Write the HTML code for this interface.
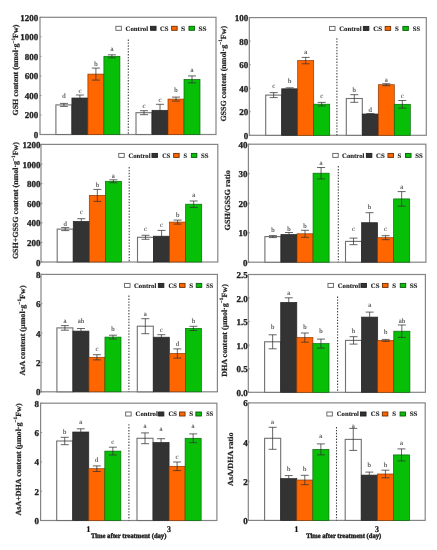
<!DOCTYPE html>
<html><head><meta charset="utf-8"><style>
html,body{margin:0;padding:0;background:#fff;}
body{width:437px;height:550px;overflow:hidden;}
svg{display:block;will-change:transform;}
text{font-family:"Liberation Serif", serif;text-rendering:geometricPrecision;}
.tick{font-size:9.0px;font-weight:bold;text-anchor:end;fill:#222;stroke:#222;stroke-width:0.3px;}
.ttl{font-size:7.8px;font-weight:bold;text-anchor:middle;fill:#222;stroke:#222;stroke-width:0.2px;}
.leg{font-size:6.8px;font-weight:bold;fill:#222;stroke:#222;stroke-width:0.12px;}
.let{font-size:6.8px;text-anchor:middle;fill:#444;stroke:#444;stroke-width:0.1px;}
.xl{font-size:8.6px;font-weight:bold;text-anchor:middle;fill:#111;stroke:#111;stroke-width:0.15px;}
.time{font-size:7.0px;font-weight:bold;fill:#222;stroke:#222;stroke-width:0.4px;}
</style></head><body>
<svg width="437" height="550" viewBox="0 0 437 550">
<rect width="437" height="550" fill="#fff"/>
<rect x="40" y="17.3" width="176" height="117.2" fill="none" stroke="#858585" stroke-width="1.2"/>
<rect x="55.9" y="104.9" width="16" height="29.6" fill="#ffffff" stroke="#707070" stroke-width="1.1"/>
<path d="M63.9 103.4V106.4M59.9 103.4h8M59.9 106.4h8" stroke="#333333" stroke-width="0.75" fill="none"/>
<text x="63.9" y="98" class="let">d</text>
<rect x="71.9" y="98" width="16" height="36.5" fill="#333333" stroke="#262626" stroke-width="0.7"/>
<path d="M79.9 95V101M75.9 95h8M75.9 101h8" stroke="#333333" stroke-width="0.75" fill="none"/>
<text x="79.9" y="92.5" class="let">c</text>
<rect x="87.9" y="74.1" width="16" height="60.4" fill="#ff6600" stroke="#8a3a00" stroke-width="0.7"/>
<path d="M95.9 68.1V80.1M91.9 68.1h8M91.9 80.1h8" stroke="#333333" stroke-width="0.75" fill="none"/>
<text x="95.9" y="65.9" class="let">b</text>
<rect x="103.9" y="56.3" width="16" height="78.2" fill="#08bf08" stroke="#0a6a0a" stroke-width="0.7"/>
<path d="M111.9 54.8V57.8M107.9 54.8h8M107.9 57.8h8" stroke="#333333" stroke-width="0.75" fill="none"/>
<text x="111.9" y="51.4" class="let">a</text>
<rect x="136" y="112.7" width="16" height="21.8" fill="#ffffff" stroke="#707070" stroke-width="1.1"/>
<path d="M144 110.7V114.7M140 110.7h8M140 114.7h8" stroke="#333333" stroke-width="0.75" fill="none"/>
<text x="144" y="107.5" class="let">c</text>
<rect x="152" y="110.3" width="16" height="24.2" fill="#333333" stroke="#262626" stroke-width="0.7"/>
<path d="M160 104.3V116.3M156 104.3h8M156 116.3h8" stroke="#333333" stroke-width="0.75" fill="none"/>
<text x="160" y="102.2" class="let">c</text>
<rect x="168" y="99.1" width="16" height="35.4" fill="#ff6600" stroke="#8a3a00" stroke-width="0.7"/>
<path d="M176 97.1V101.1M172 97.1h8M172 101.1h8" stroke="#333333" stroke-width="0.75" fill="none"/>
<text x="176" y="92.2" class="let">b</text>
<rect x="184" y="79.4" width="16" height="55.1" fill="#08bf08" stroke="#0a6a0a" stroke-width="0.7"/>
<path d="M192 75.9V82.9M188 75.9h8M188 82.9h8" stroke="#333333" stroke-width="0.75" fill="none"/>
<text x="192" y="72" class="let">a</text>
<line x1="128.3" y1="39.5" x2="128.3" y2="134.5" stroke="#3a3a3a" stroke-width="1.05" stroke-dasharray="1.4 1.5"/>
<line x1="40" y1="134.5" x2="41.6" y2="134.5" stroke="#858585" stroke-width="0.8"/>
<text x="38.3" y="138" class="tick">0</text>
<line x1="40" y1="114.97" x2="41.6" y2="114.97" stroke="#858585" stroke-width="0.8"/>
<text x="38.3" y="118.47" class="tick">200</text>
<line x1="40" y1="95.43" x2="41.6" y2="95.43" stroke="#858585" stroke-width="0.8"/>
<text x="38.3" y="98.93" class="tick">400</text>
<line x1="40" y1="75.9" x2="41.6" y2="75.9" stroke="#858585" stroke-width="0.8"/>
<text x="38.3" y="79.4" class="tick">600</text>
<line x1="40" y1="56.37" x2="41.6" y2="56.37" stroke="#858585" stroke-width="0.8"/>
<text x="38.3" y="59.87" class="tick">800</text>
<line x1="40" y1="36.83" x2="41.6" y2="36.83" stroke="#858585" stroke-width="0.8"/>
<text x="38.3" y="40.33" class="tick">1000</text>
<line x1="40" y1="17.3" x2="41.6" y2="17.3" stroke="#858585" stroke-width="0.8"/>
<text x="38.3" y="20.8" class="tick">1200</text>
<text transform="translate(18.3 70.1) rotate(-90)" x="0" y="0" class="ttl" textLength="90.8" lengthAdjust="spacingAndGlyphs">GSH content (nmol·g<tspan font-size="5.2" dy="-3.7">−1</tspan><tspan dy="3.7">Fw)</tspan></text>
<rect x="115.85" y="26.3" width="5.5" height="4" fill="#ffffff" stroke="#606060" stroke-width="0.9"/>
<rect x="150.55" y="26.3" width="5.5" height="4" fill="#333333" stroke="#1e1e1e" stroke-width="0.9"/>
<rect x="171.65" y="26.3" width="5.5" height="4" fill="#ff6600" stroke="#6a3000" stroke-width="0.9"/>
<rect x="188.95" y="26.3" width="5.5" height="4" fill="#08bf08" stroke="#0b5a0b" stroke-width="0.9"/>
<text x="125.5" y="30.7" class="leg" textLength="22.6" lengthAdjust="spacingAndGlyphs">Control</text>
<text x="160" y="30.7" class="leg" textLength="8.5" lengthAdjust="spacingAndGlyphs">CS</text>
<text x="181" y="30.7" class="leg" textLength="4.2" lengthAdjust="spacingAndGlyphs">S</text>
<text x="198.6" y="30.7" class="leg" textLength="8" lengthAdjust="spacingAndGlyphs">SS</text>
<rect x="249.3" y="17.6" width="177" height="117.7" fill="none" stroke="#858585" stroke-width="1.2"/>
<rect x="265.7" y="95.1" width="16" height="40.2" fill="#ffffff" stroke="#707070" stroke-width="1.1"/>
<path d="M273.7 92.6V97.6M269.7 92.6h8M269.7 97.6h8" stroke="#333333" stroke-width="0.75" fill="none"/>
<text x="273.7" y="88.4" class="let">c</text>
<rect x="281.7" y="88.8" width="16" height="46.5" fill="#333333" stroke="#262626" stroke-width="0.7"/>
<path d="M289.7 87.8V89.8M285.7 87.8h8M285.7 89.8h8" stroke="#333333" stroke-width="0.75" fill="none"/>
<text x="289.7" y="83.1" class="let">b</text>
<rect x="297.7" y="60.6" width="16" height="74.7" fill="#ff6600" stroke="#8a3a00" stroke-width="0.7"/>
<path d="M305.7 57.4V63.8M301.7 57.4h8M301.7 63.8h8" stroke="#333333" stroke-width="0.75" fill="none"/>
<text x="305.7" y="54.1" class="let">a</text>
<rect x="313.7" y="104.2" width="16" height="31.1" fill="#08bf08" stroke="#0a6a0a" stroke-width="0.7"/>
<path d="M321.7 102.4V106M317.7 102.4h8M317.7 106h8" stroke="#333333" stroke-width="0.75" fill="none"/>
<text x="321.7" y="98.2" class="let">c</text>
<rect x="346.3" y="98.5" width="16" height="36.8" fill="#ffffff" stroke="#707070" stroke-width="1.1"/>
<path d="M354.3 94.7V102.3M350.3 94.7h8M350.3 102.3h8" stroke="#333333" stroke-width="0.75" fill="none"/>
<text x="354.3" y="92.4" class="let">b</text>
<rect x="362.3" y="114" width="16" height="21.3" fill="#333333" stroke="#262626" stroke-width="0.7"/>
<path d="M370.3 113.5V114.5M366.3 113.5h8M366.3 114.5h8" stroke="#333333" stroke-width="0.75" fill="none"/>
<text x="370.3" y="111.7" class="let">d</text>
<rect x="378.3" y="84.7" width="16" height="50.6" fill="#ff6600" stroke="#8a3a00" stroke-width="0.7"/>
<path d="M386.3 83.7V85.7M382.3 83.7h8M382.3 85.7h8" stroke="#333333" stroke-width="0.75" fill="none"/>
<text x="386.3" y="81.6" class="let">a</text>
<rect x="394.3" y="104.3" width="16" height="31" fill="#08bf08" stroke="#0a6a0a" stroke-width="0.7"/>
<path d="M402.3 100.5V108.1M398.3 100.5h8M398.3 108.1h8" stroke="#333333" stroke-width="0.75" fill="none"/>
<text x="402.3" y="98.1" class="let">c</text>
<line x1="336.9" y1="38.3" x2="336.9" y2="135.3" stroke="#3a3a3a" stroke-width="1.05" stroke-dasharray="1.4 1.5"/>
<line x1="249.3" y1="135.3" x2="250.9" y2="135.3" stroke="#858585" stroke-width="0.8"/>
<text x="248.2" y="138.8" class="tick">0</text>
<line x1="249.3" y1="111.76" x2="250.9" y2="111.76" stroke="#858585" stroke-width="0.8"/>
<text x="248.2" y="115.26" class="tick">20</text>
<line x1="249.3" y1="88.22" x2="250.9" y2="88.22" stroke="#858585" stroke-width="0.8"/>
<text x="248.2" y="91.72" class="tick">40</text>
<line x1="249.3" y1="64.68" x2="250.9" y2="64.68" stroke="#858585" stroke-width="0.8"/>
<text x="248.2" y="68.18" class="tick">60</text>
<line x1="249.3" y1="41.14" x2="250.9" y2="41.14" stroke="#858585" stroke-width="0.8"/>
<text x="248.2" y="44.64" class="tick">80</text>
<line x1="249.3" y1="17.6" x2="250.9" y2="17.6" stroke="#858585" stroke-width="0.8"/>
<text x="248.2" y="21.1" class="tick">100</text>
<text transform="translate(226 73.75) rotate(-90)" x="0" y="0" class="ttl" textLength="95.7" lengthAdjust="spacingAndGlyphs">GSSG content (nmol·g<tspan font-size="5.2" dy="-3.7">−1</tspan><tspan dy="3.7">Fw)</tspan></text>
<rect x="329.55" y="26.4" width="5.5" height="4" fill="#ffffff" stroke="#606060" stroke-width="0.9"/>
<rect x="363.35" y="26.4" width="5.5" height="4" fill="#333333" stroke="#1e1e1e" stroke-width="0.9"/>
<rect x="385.15" y="26.4" width="5.5" height="4" fill="#ff6600" stroke="#6a3000" stroke-width="0.9"/>
<rect x="402.85" y="26.4" width="5.5" height="4" fill="#08bf08" stroke="#0b5a0b" stroke-width="0.9"/>
<text x="339.2" y="30.8" class="leg" textLength="22.4" lengthAdjust="spacingAndGlyphs">Control</text>
<text x="373.3" y="30.8" class="leg" textLength="9" lengthAdjust="spacingAndGlyphs">CS</text>
<text x="395.1" y="30.8" class="leg" textLength="3.8" lengthAdjust="spacingAndGlyphs">S</text>
<text x="412.8" y="30.8" class="leg" textLength="7.3" lengthAdjust="spacingAndGlyphs">SS</text>
<rect x="41" y="144.4" width="176.8" height="117.6" fill="none" stroke="#858585" stroke-width="1.2"/>
<rect x="57.2" y="229.1" width="16.05" height="32.9" fill="#ffffff" stroke="#707070" stroke-width="1.1"/>
<path d="M65.23 227.6V230.6M61.23 227.6h8M61.23 230.6h8" stroke="#333333" stroke-width="0.75" fill="none"/>
<text x="65.23" y="226.2" class="let">d</text>
<rect x="73.25" y="221.4" width="16.05" height="40.6" fill="#333333" stroke="#262626" stroke-width="0.7"/>
<path d="M81.28 218.7V224.1M77.28 218.7h8M77.28 224.1h8" stroke="#333333" stroke-width="0.75" fill="none"/>
<text x="81.28" y="214.3" class="let">c</text>
<rect x="89.3" y="195.4" width="16.05" height="66.6" fill="#ff6600" stroke="#8a3a00" stroke-width="0.7"/>
<path d="M97.33 189.4V201.4M93.33 189.4h8M93.33 201.4h8" stroke="#333333" stroke-width="0.75" fill="none"/>
<text x="97.33" y="187.2" class="let">b</text>
<rect x="105.35" y="181.3" width="16.05" height="80.7" fill="#08bf08" stroke="#0a6a0a" stroke-width="0.7"/>
<path d="M113.38 179.8V182.8M109.38 179.8h8M109.38 182.8h8" stroke="#333333" stroke-width="0.75" fill="none"/>
<text x="113.38" y="178" class="let">a</text>
<rect x="137.5" y="237.3" width="16.05" height="24.7" fill="#ffffff" stroke="#707070" stroke-width="1.1"/>
<path d="M145.53 235.3V239.3M141.53 235.3h8M141.53 239.3h8" stroke="#333333" stroke-width="0.75" fill="none"/>
<text x="145.53" y="231.3" class="let">c</text>
<rect x="153.55" y="236.2" width="16.05" height="25.8" fill="#333333" stroke="#262626" stroke-width="0.7"/>
<path d="M161.58 230.4V242M157.58 230.4h8M157.58 242h8" stroke="#333333" stroke-width="0.75" fill="none"/>
<text x="161.58" y="226.9" class="let">c</text>
<rect x="169.6" y="222.1" width="16.05" height="39.9" fill="#ff6600" stroke="#8a3a00" stroke-width="0.7"/>
<path d="M177.62 220.1V224.1M173.62 220.1h8M173.62 224.1h8" stroke="#333333" stroke-width="0.75" fill="none"/>
<text x="177.62" y="217" class="let">b</text>
<rect x="185.65" y="204.2" width="16.05" height="57.8" fill="#08bf08" stroke="#0a6a0a" stroke-width="0.7"/>
<path d="M193.68 201V207.4M189.68 201h8M189.68 207.4h8" stroke="#333333" stroke-width="0.75" fill="none"/>
<text x="193.68" y="197.1" class="let">a</text>
<line x1="129.2" y1="167" x2="129.2" y2="262" stroke="#3a3a3a" stroke-width="1.05" stroke-dasharray="1.4 1.5"/>
<line x1="41" y1="262" x2="42.6" y2="262" stroke="#858585" stroke-width="0.8"/>
<text x="40.5" y="265.5" class="tick">0</text>
<line x1="41" y1="242.4" x2="42.6" y2="242.4" stroke="#858585" stroke-width="0.8"/>
<text x="40.5" y="245.9" class="tick">200</text>
<line x1="41" y1="222.8" x2="42.6" y2="222.8" stroke="#858585" stroke-width="0.8"/>
<text x="40.5" y="226.3" class="tick">400</text>
<line x1="41" y1="203.2" x2="42.6" y2="203.2" stroke="#858585" stroke-width="0.8"/>
<text x="40.5" y="206.7" class="tick">600</text>
<line x1="41" y1="183.6" x2="42.6" y2="183.6" stroke="#858585" stroke-width="0.8"/>
<text x="40.5" y="187.1" class="tick">800</text>
<line x1="41" y1="164" x2="42.6" y2="164" stroke="#858585" stroke-width="0.8"/>
<text x="40.5" y="167.5" class="tick">1000</text>
<line x1="41" y1="144.4" x2="42.6" y2="144.4" stroke="#858585" stroke-width="0.8"/>
<text x="40.5" y="147.9" class="tick">1200</text>
<text transform="translate(18.2 200.55) rotate(-90)" x="0" y="0" class="ttl" textLength="117.1" lengthAdjust="spacingAndGlyphs">GSH+GSSG content (nmol·g<tspan font-size="5.2" dy="-3.7">−1</tspan><tspan dy="3.7">Fw)</tspan></text>
<rect x="118.75" y="153.4" width="5.5" height="4" fill="#ffffff" stroke="#606060" stroke-width="0.9"/>
<rect x="151.95" y="153.4" width="5.5" height="4" fill="#333333" stroke="#1e1e1e" stroke-width="0.9"/>
<rect x="173.65" y="153.4" width="5.5" height="4" fill="#ff6600" stroke="#6a3000" stroke-width="0.9"/>
<rect x="191.35" y="153.4" width="5.5" height="4" fill="#08bf08" stroke="#0b5a0b" stroke-width="0.9"/>
<text x="128.4" y="157.8" class="leg" textLength="22.1" lengthAdjust="spacingAndGlyphs">Control</text>
<text x="162.2" y="157.8" class="leg" textLength="8.1" lengthAdjust="spacingAndGlyphs">CS</text>
<text x="183.4" y="157.8" class="leg" textLength="3.6" lengthAdjust="spacingAndGlyphs">S</text>
<text x="201.1" y="157.8" class="leg" textLength="7.5" lengthAdjust="spacingAndGlyphs">SS</text>
<rect x="248.4" y="144.2" width="177.5" height="118" fill="none" stroke="#858585" stroke-width="1.2"/>
<rect x="264.9" y="236.6" width="16.05" height="25.6" fill="#ffffff" stroke="#707070" stroke-width="1.1"/>
<path d="M272.92 235.6V237.6M268.92 235.6h8M268.92 237.6h8" stroke="#333333" stroke-width="0.75" fill="none"/>
<text x="272.92" y="231.8" class="let">b</text>
<rect x="280.95" y="234.5" width="16.05" height="27.7" fill="#333333" stroke="#262626" stroke-width="0.7"/>
<path d="M288.97 232.5V236.5M284.97 232.5h8M284.97 236.5h8" stroke="#333333" stroke-width="0.75" fill="none"/>
<text x="288.97" y="230.9" class="let">b</text>
<rect x="297" y="233.8" width="16.05" height="28.4" fill="#ff6600" stroke="#8a3a00" stroke-width="0.7"/>
<path d="M305.02 230.3V237.3M301.02 230.3h8M301.02 237.3h8" stroke="#333333" stroke-width="0.75" fill="none"/>
<text x="305.02" y="227.6" class="let">b</text>
<rect x="313.05" y="173.2" width="16.05" height="89" fill="#08bf08" stroke="#0a6a0a" stroke-width="0.7"/>
<path d="M321.07 167.5V178.9M317.07 167.5h8M317.07 178.9h8" stroke="#333333" stroke-width="0.75" fill="none"/>
<text x="321.07" y="165.2" class="let">a</text>
<rect x="345.5" y="241.4" width="16.05" height="20.8" fill="#ffffff" stroke="#707070" stroke-width="1.1"/>
<path d="M353.52 238.1V244.7M349.52 238.1h8M349.52 244.7h8" stroke="#333333" stroke-width="0.75" fill="none"/>
<text x="353.52" y="231" class="let">c</text>
<rect x="361.55" y="222.7" width="16.05" height="39.5" fill="#333333" stroke="#262626" stroke-width="0.7"/>
<path d="M369.57 212.7V232.7M365.57 212.7h8M365.57 232.7h8" stroke="#333333" stroke-width="0.75" fill="none"/>
<text x="369.57" y="209.3" class="let">b</text>
<rect x="377.6" y="237.7" width="16.05" height="24.5" fill="#ff6600" stroke="#8a3a00" stroke-width="0.7"/>
<path d="M385.62 235.7V239.7M381.62 235.7h8M381.62 239.7h8" stroke="#333333" stroke-width="0.75" fill="none"/>
<text x="385.62" y="231" class="let">c</text>
<rect x="393.65" y="198.9" width="16.05" height="63.3" fill="#08bf08" stroke="#0a6a0a" stroke-width="0.7"/>
<path d="M401.67 191.6V206.2M397.67 191.6h8M397.67 206.2h8" stroke="#333333" stroke-width="0.75" fill="none"/>
<text x="401.67" y="188.5" class="let">a</text>
<line x1="338.3" y1="166.1" x2="338.3" y2="262.2" stroke="#3a3a3a" stroke-width="1.05" stroke-dasharray="1.4 1.5"/>
<line x1="248.4" y1="262.2" x2="250" y2="262.2" stroke="#858585" stroke-width="0.8"/>
<text x="247.4" y="265.7" class="tick">0</text>
<line x1="248.4" y1="232.7" x2="250" y2="232.7" stroke="#858585" stroke-width="0.8"/>
<text x="247.4" y="236.2" class="tick">10</text>
<line x1="248.4" y1="203.2" x2="250" y2="203.2" stroke="#858585" stroke-width="0.8"/>
<text x="247.4" y="206.7" class="tick">20</text>
<line x1="248.4" y1="173.7" x2="250" y2="173.7" stroke="#858585" stroke-width="0.8"/>
<text x="247.4" y="177.2" class="tick">30</text>
<line x1="248.4" y1="144.2" x2="250" y2="144.2" stroke="#858585" stroke-width="0.8"/>
<text x="247.4" y="147.7" class="tick">40</text>
<text transform="translate(229.8 200.35) rotate(-90)" x="0" y="0" class="ttl" textLength="60.3" lengthAdjust="spacingAndGlyphs">GSH/GSSG ratio</text>
<rect x="332.75" y="153.4" width="5.5" height="4" fill="#ffffff" stroke="#606060" stroke-width="0.9"/>
<rect x="366.35" y="153.4" width="5.5" height="4" fill="#333333" stroke="#1e1e1e" stroke-width="0.9"/>
<rect x="387.95" y="153.4" width="5.5" height="4" fill="#ff6600" stroke="#6a3000" stroke-width="0.9"/>
<rect x="405.55" y="153.4" width="5.5" height="4" fill="#08bf08" stroke="#0b5a0b" stroke-width="0.9"/>
<text x="342" y="157.8" class="leg" textLength="22.5" lengthAdjust="spacingAndGlyphs">Control</text>
<text x="376.1" y="157.8" class="leg" textLength="8.7" lengthAdjust="spacingAndGlyphs">CS</text>
<text x="397.5" y="157.8" class="leg" textLength="3.8" lengthAdjust="spacingAndGlyphs">S</text>
<text x="415.2" y="157.8" class="leg" textLength="7.5" lengthAdjust="spacingAndGlyphs">SS</text>
<rect x="41" y="274.4" width="176.4" height="117.4" fill="none" stroke="#858585" stroke-width="1.2"/>
<rect x="56.9" y="327.9" width="16.02" height="63.9" fill="#ffffff" stroke="#707070" stroke-width="1.1"/>
<path d="M64.91 325.6V330.2M60.91 325.6h8M60.91 330.2h8" stroke="#333333" stroke-width="0.75" fill="none"/>
<text x="64.91" y="322.5" class="let">a</text>
<rect x="72.92" y="331.1" width="16.02" height="60.7" fill="#333333" stroke="#262626" stroke-width="0.7"/>
<path d="M80.93 328.5V333.7M76.93 328.5h8M76.93 333.7h8" stroke="#333333" stroke-width="0.75" fill="none"/>
<text x="80.93" y="322.8" class="let">ab</text>
<rect x="88.94" y="357.3" width="16.02" height="34.5" fill="#ff6600" stroke="#8a3a00" stroke-width="0.7"/>
<path d="M96.95 354.7V359.9M92.95 354.7h8M92.95 359.9h8" stroke="#333333" stroke-width="0.75" fill="none"/>
<text x="96.95" y="350.9" class="let">c</text>
<rect x="104.96" y="337.1" width="16.02" height="54.7" fill="#08bf08" stroke="#0a6a0a" stroke-width="0.7"/>
<path d="M112.97 335.2V339M108.97 335.2h8M108.97 339h8" stroke="#333333" stroke-width="0.75" fill="none"/>
<text x="112.97" y="330.9" class="let">b</text>
<rect x="137.3" y="326.2" width="16.02" height="65.6" fill="#ffffff" stroke="#707070" stroke-width="1.1"/>
<path d="M145.31 318.7V333.7M141.31 318.7h8M141.31 333.7h8" stroke="#333333" stroke-width="0.75" fill="none"/>
<text x="145.31" y="316.2" class="let">a</text>
<rect x="153.32" y="337.2" width="16.02" height="54.6" fill="#333333" stroke="#262626" stroke-width="0.7"/>
<path d="M161.33 334.7V339.7M157.33 334.7h8M157.33 339.7h8" stroke="#333333" stroke-width="0.75" fill="none"/>
<text x="161.33" y="332.3" class="let">c</text>
<rect x="169.34" y="353.5" width="16.02" height="38.3" fill="#ff6600" stroke="#8a3a00" stroke-width="0.7"/>
<path d="M177.35 348.9V358.1M173.35 348.9h8M173.35 358.1h8" stroke="#333333" stroke-width="0.75" fill="none"/>
<text x="177.35" y="345.8" class="let">d</text>
<rect x="185.36" y="328.4" width="16.02" height="63.4" fill="#08bf08" stroke="#0a6a0a" stroke-width="0.7"/>
<path d="M193.37 326.3V330.5M189.37 326.3h8M189.37 330.5h8" stroke="#333333" stroke-width="0.75" fill="none"/>
<text x="193.37" y="322.7" class="let">b</text>
<line x1="128.9" y1="295.6" x2="128.9" y2="391.8" stroke="#3a3a3a" stroke-width="1.05" stroke-dasharray="1.4 1.5"/>
<line x1="41" y1="391.8" x2="42.6" y2="391.8" stroke="#858585" stroke-width="0.8"/>
<text x="40.5" y="395.3" class="tick">0</text>
<line x1="41" y1="362.45" x2="42.6" y2="362.45" stroke="#858585" stroke-width="0.8"/>
<text x="40.5" y="365.95" class="tick">2</text>
<line x1="41" y1="333.1" x2="42.6" y2="333.1" stroke="#858585" stroke-width="0.8"/>
<text x="40.5" y="336.6" class="tick">4</text>
<line x1="41" y1="303.75" x2="42.6" y2="303.75" stroke="#858585" stroke-width="0.8"/>
<text x="40.5" y="307.25" class="tick">6</text>
<line x1="41" y1="274.4" x2="42.6" y2="274.4" stroke="#858585" stroke-width="0.8"/>
<text x="40.5" y="277.9" class="tick">8</text>
<text transform="translate(25.1 330.5) rotate(-90)" x="0" y="0" class="ttl" textLength="90.2" lengthAdjust="spacingAndGlyphs">AsA content (μmol·g<tspan font-size="5.2" dy="-3.7">−1</tspan><tspan dy="3.7">Fw)</tspan></text>
<rect x="124.55" y="283.4" width="5.5" height="4" fill="#ffffff" stroke="#606060" stroke-width="0.9"/>
<rect x="158.35" y="283.4" width="5.5" height="4" fill="#333333" stroke="#1e1e1e" stroke-width="0.9"/>
<rect x="179.55" y="283.4" width="5.5" height="4" fill="#ff6600" stroke="#6a3000" stroke-width="0.9"/>
<rect x="196.25" y="283.4" width="5.5" height="4" fill="#08bf08" stroke="#0b5a0b" stroke-width="0.9"/>
<text x="133.9" y="287.8" class="leg" textLength="22.4" lengthAdjust="spacingAndGlyphs">Control</text>
<text x="168.4" y="287.8" class="leg" textLength="8.4" lengthAdjust="spacingAndGlyphs">CS</text>
<text x="189.2" y="287.8" class="leg" textLength="3.9" lengthAdjust="spacingAndGlyphs">S</text>
<text x="206.2" y="287.8" class="leg" textLength="6.9" lengthAdjust="spacingAndGlyphs">SS</text>
<rect x="248.3" y="274.5" width="177.1" height="117.8" fill="none" stroke="#858585" stroke-width="1.2"/>
<rect x="264.6" y="341.8" width="16.1" height="50.5" fill="#ffffff" stroke="#707070" stroke-width="1.1"/>
<path d="M272.65 334.8V348.8M268.65 334.8h8M268.65 348.8h8" stroke="#333333" stroke-width="0.75" fill="none"/>
<text x="272.65" y="329.3" class="let">b</text>
<rect x="280.7" y="302.4" width="16.1" height="89.9" fill="#333333" stroke="#262626" stroke-width="0.7"/>
<path d="M288.75 297.8V307M284.75 297.8h8M284.75 307h8" stroke="#333333" stroke-width="0.75" fill="none"/>
<text x="288.75" y="295.3" class="let">a</text>
<rect x="296.8" y="337.6" width="16.1" height="54.7" fill="#ff6600" stroke="#8a3a00" stroke-width="0.7"/>
<path d="M304.85 333V342.2M300.85 333h8M300.85 342.2h8" stroke="#333333" stroke-width="0.75" fill="none"/>
<text x="304.85" y="329.3" class="let">b</text>
<rect x="312.9" y="343.6" width="16.1" height="48.7" fill="#08bf08" stroke="#0a6a0a" stroke-width="0.7"/>
<path d="M320.95 339.1V348.1M316.95 339.1h8M316.95 348.1h8" stroke="#333333" stroke-width="0.75" fill="none"/>
<text x="320.95" y="332.6" class="let">b</text>
<rect x="345.5" y="340.4" width="16.1" height="51.9" fill="#ffffff" stroke="#707070" stroke-width="1.1"/>
<path d="M353.55 336.7V344.1M349.55 336.7h8M349.55 344.1h8" stroke="#333333" stroke-width="0.75" fill="none"/>
<text x="353.55" y="332.5" class="let">b</text>
<rect x="361.6" y="317.1" width="16.1" height="75.2" fill="#333333" stroke="#262626" stroke-width="0.7"/>
<path d="M369.65 312.1V322.1M365.65 312.1h8M365.65 322.1h8" stroke="#333333" stroke-width="0.75" fill="none"/>
<text x="369.65" y="307.1" class="let">a</text>
<rect x="377.7" y="340.4" width="16.1" height="51.9" fill="#ff6600" stroke="#8a3a00" stroke-width="0.7"/>
<path d="M385.75 339.4V341.4M381.75 339.4h8M381.75 341.4h8" stroke="#333333" stroke-width="0.75" fill="none"/>
<text x="385.75" y="334.3" class="let">b</text>
<rect x="393.8" y="331.2" width="16.1" height="61.1" fill="#08bf08" stroke="#0a6a0a" stroke-width="0.7"/>
<path d="M401.85 325V337.4M397.85 325h8M397.85 337.4h8" stroke="#333333" stroke-width="0.75" fill="none"/>
<text x="401.85" y="323" class="let">ab</text>
<line x1="337.6" y1="296.5" x2="337.6" y2="392.3" stroke="#3a3a3a" stroke-width="1.05" stroke-dasharray="1.4 1.5"/>
<line x1="248.3" y1="392.3" x2="249.9" y2="392.3" stroke="#858585" stroke-width="0.8"/>
<text x="247.7" y="395.8" class="tick">0.0</text>
<line x1="248.3" y1="368.74" x2="249.9" y2="368.74" stroke="#858585" stroke-width="0.8"/>
<text x="247.7" y="372.24" class="tick">0.5</text>
<line x1="248.3" y1="345.18" x2="249.9" y2="345.18" stroke="#858585" stroke-width="0.8"/>
<text x="247.7" y="348.68" class="tick">1.0</text>
<line x1="248.3" y1="321.62" x2="249.9" y2="321.62" stroke="#858585" stroke-width="0.8"/>
<text x="247.7" y="325.12" class="tick">1.5</text>
<line x1="248.3" y1="298.06" x2="249.9" y2="298.06" stroke="#858585" stroke-width="0.8"/>
<text x="247.7" y="301.56" class="tick">2.0</text>
<line x1="248.3" y1="274.5" x2="249.9" y2="274.5" stroke="#858585" stroke-width="0.8"/>
<text x="247.7" y="278" class="tick">2.5</text>
<text transform="translate(227 330.45) rotate(-90)" x="0" y="0" class="ttl" textLength="92.7" lengthAdjust="spacingAndGlyphs">DHA content (μmol·g<tspan font-size="5.2" dy="-3.7">−1</tspan><tspan dy="3.7">Fw)</tspan></text>
<rect x="327.95" y="283.4" width="5.5" height="4" fill="#ffffff" stroke="#606060" stroke-width="0.9"/>
<rect x="360.95" y="283.4" width="5.5" height="4" fill="#333333" stroke="#1e1e1e" stroke-width="0.9"/>
<rect x="382.55" y="283.4" width="5.5" height="4" fill="#ff6600" stroke="#6a3000" stroke-width="0.9"/>
<rect x="400.25" y="283.4" width="5.5" height="4" fill="#08bf08" stroke="#0b5a0b" stroke-width="0.9"/>
<text x="337.7" y="287.8" class="leg" textLength="22.4" lengthAdjust="spacingAndGlyphs">Control</text>
<text x="370.8" y="287.8" class="leg" textLength="8.7" lengthAdjust="spacingAndGlyphs">CS</text>
<text x="392.2" y="287.8" class="leg" textLength="3.8" lengthAdjust="spacingAndGlyphs">S</text>
<text x="409.7" y="287.8" class="leg" textLength="7.8" lengthAdjust="spacingAndGlyphs">SS</text>
<rect x="40.6" y="403.2" width="176.3" height="117.3" fill="none" stroke="#858585" stroke-width="1.2"/>
<rect x="56.7" y="441" width="16.04" height="79.5" fill="#ffffff" stroke="#707070" stroke-width="1.1"/>
<path d="M64.72 437.3V444.7M60.72 437.3h8M60.72 444.7h8" stroke="#333333" stroke-width="0.75" fill="none"/>
<text x="64.72" y="434" class="let">b</text>
<rect x="72.74" y="432" width="16.04" height="88.5" fill="#333333" stroke="#262626" stroke-width="0.7"/>
<path d="M80.76 428.8V435.2M76.76 428.8h8M76.76 435.2h8" stroke="#333333" stroke-width="0.75" fill="none"/>
<text x="80.76" y="423.8" class="let">a</text>
<rect x="88.78" y="468.7" width="16.04" height="51.8" fill="#ff6600" stroke="#8a3a00" stroke-width="0.7"/>
<path d="M96.8 465.9V471.5M92.8 465.9h8M92.8 471.5h8" stroke="#333333" stroke-width="0.75" fill="none"/>
<text x="96.8" y="461.5" class="let">d</text>
<rect x="104.82" y="451.1" width="16.04" height="69.4" fill="#08bf08" stroke="#0a6a0a" stroke-width="0.7"/>
<path d="M112.84 447.2V455M108.84 447.2h8M108.84 455h8" stroke="#333333" stroke-width="0.75" fill="none"/>
<text x="112.84" y="444" class="let">c</text>
<rect x="137" y="438.3" width="16.04" height="82.2" fill="#ffffff" stroke="#707070" stroke-width="1.1"/>
<path d="M145.02 432.9V443.7M141.02 432.9h8M141.02 443.7h8" stroke="#333333" stroke-width="0.75" fill="none"/>
<text x="145.02" y="428.4" class="let">a</text>
<rect x="153.04" y="442.5" width="16.04" height="78" fill="#333333" stroke="#262626" stroke-width="0.7"/>
<path d="M161.06 438.7V446.3M157.06 438.7h8M157.06 446.3h8" stroke="#333333" stroke-width="0.75" fill="none"/>
<text x="161.06" y="431.2" class="let">a</text>
<rect x="169.08" y="466.3" width="16.04" height="54.2" fill="#ff6600" stroke="#8a3a00" stroke-width="0.7"/>
<path d="M177.1 462V470.6M173.1 462h8M173.1 470.6h8" stroke="#333333" stroke-width="0.75" fill="none"/>
<text x="177.1" y="459" class="let">c</text>
<rect x="185.12" y="438.3" width="16.04" height="82.2" fill="#08bf08" stroke="#0a6a0a" stroke-width="0.7"/>
<path d="M193.14 433.9V442.7M189.14 433.9h8M189.14 442.7h8" stroke="#333333" stroke-width="0.75" fill="none"/>
<text x="193.14" y="428.4" class="let">a</text>
<line x1="128.9" y1="424.2" x2="128.9" y2="520.5" stroke="#3a3a3a" stroke-width="1.05" stroke-dasharray="1.4 1.5"/>
<line x1="40.6" y1="520.5" x2="42.2" y2="520.5" stroke="#858585" stroke-width="0.8"/>
<text x="38.9" y="524" class="tick">0</text>
<line x1="40.6" y1="491.18" x2="42.2" y2="491.18" stroke="#858585" stroke-width="0.8"/>
<text x="38.9" y="494.68" class="tick">2</text>
<line x1="40.6" y1="461.85" x2="42.2" y2="461.85" stroke="#858585" stroke-width="0.8"/>
<text x="38.9" y="465.35" class="tick">4</text>
<line x1="40.6" y1="432.52" x2="42.2" y2="432.52" stroke="#858585" stroke-width="0.8"/>
<text x="38.9" y="436.02" class="tick">6</text>
<line x1="40.6" y1="403.2" x2="42.2" y2="403.2" stroke="#858585" stroke-width="0.8"/>
<text x="38.9" y="406.7" class="tick">8</text>
<text transform="translate(21.1 459.4) rotate(-90)" x="0" y="0" class="ttl" textLength="112.2" lengthAdjust="spacingAndGlyphs">AsA+DHA content (μmol·g<tspan font-size="5.2" dy="-3.7">−1</tspan><tspan dy="3.7">Fw)</tspan></text>
<rect x="125.65" y="412" width="5.5" height="4" fill="#ffffff" stroke="#606060" stroke-width="0.9"/>
<rect x="158.35" y="412" width="5.5" height="4" fill="#333333" stroke="#1e1e1e" stroke-width="0.9"/>
<rect x="179.55" y="412" width="5.5" height="4" fill="#ff6600" stroke="#6a3000" stroke-width="0.9"/>
<rect x="195.85" y="412" width="5.5" height="4" fill="#08bf08" stroke="#0b5a0b" stroke-width="0.9"/>
<text x="135.6" y="416.4" class="leg" textLength="22.2" lengthAdjust="spacingAndGlyphs">Control</text>
<text x="168.4" y="416.4" class="leg" textLength="8.4" lengthAdjust="spacingAndGlyphs">CS</text>
<text x="189.2" y="416.4" class="leg" textLength="3.9" lengthAdjust="spacingAndGlyphs">S</text>
<text x="206.2" y="416.4" class="leg" textLength="6.9" lengthAdjust="spacingAndGlyphs">SS</text>
<rect x="248.3" y="402.9" width="176.9" height="117.5" fill="none" stroke="#858585" stroke-width="1.2"/>
<rect x="264.6" y="438.3" width="16.08" height="82.1" fill="#ffffff" stroke="#707070" stroke-width="1.1"/>
<path d="M272.64 427.3V449.3M268.64 427.3h8M268.64 449.3h8" stroke="#333333" stroke-width="0.75" fill="none"/>
<text x="272.64" y="424.2" class="let">a</text>
<rect x="280.68" y="478.6" width="16.08" height="41.8" fill="#333333" stroke="#262626" stroke-width="0.7"/>
<path d="M288.72 475.6V481.6M284.72 475.6h8M284.72 481.6h8" stroke="#333333" stroke-width="0.75" fill="none"/>
<text x="288.72" y="471.2" class="let">b</text>
<rect x="296.76" y="480" width="16.08" height="40.4" fill="#ff6600" stroke="#8a3a00" stroke-width="0.7"/>
<path d="M304.8 475.3V484.7M300.8 475.3h8M300.8 484.7h8" stroke="#333333" stroke-width="0.75" fill="none"/>
<text x="304.8" y="471.2" class="let">b</text>
<rect x="312.84" y="449.4" width="16.08" height="71" fill="#08bf08" stroke="#0a6a0a" stroke-width="0.7"/>
<path d="M320.88 443.9V454.9M316.88 443.9h8M316.88 454.9h8" stroke="#333333" stroke-width="0.75" fill="none"/>
<text x="320.88" y="437.6" class="let">a</text>
<rect x="345.2" y="439.4" width="16.08" height="81" fill="#ffffff" stroke="#707070" stroke-width="1.1"/>
<path d="M353.24 428.4V450.4M349.24 428.4h8M349.24 450.4h8" stroke="#333333" stroke-width="0.75" fill="none"/>
<text x="353.24" y="428.4" class="let">a</text>
<rect x="361.28" y="475.1" width="16.08" height="45.3" fill="#333333" stroke="#262626" stroke-width="0.7"/>
<path d="M369.32 472.1V478.1M365.32 472.1h8M365.32 478.1h8" stroke="#333333" stroke-width="0.75" fill="none"/>
<text x="369.32" y="467" class="let">b</text>
<rect x="377.36" y="474" width="16.08" height="46.4" fill="#ff6600" stroke="#8a3a00" stroke-width="0.7"/>
<path d="M385.4 470.2V477.8M381.4 470.2h8M381.4 477.8h8" stroke="#333333" stroke-width="0.75" fill="none"/>
<text x="385.4" y="467" class="let">b</text>
<rect x="393.44" y="454.9" width="16.08" height="65.5" fill="#08bf08" stroke="#0a6a0a" stroke-width="0.7"/>
<path d="M401.48 448.9V460.9M397.48 448.9h8M397.48 460.9h8" stroke="#333333" stroke-width="0.75" fill="none"/>
<text x="401.48" y="444.9" class="let">a</text>
<line x1="336.5" y1="427" x2="336.5" y2="520.4" stroke="#3a3a3a" stroke-width="1.05" stroke-dasharray="1.4 1.5"/>
<line x1="248.3" y1="520.4" x2="249.9" y2="520.4" stroke="#858585" stroke-width="0.8"/>
<text x="247.8" y="523.9" class="tick">0</text>
<line x1="248.3" y1="481.23" x2="249.9" y2="481.23" stroke="#858585" stroke-width="0.8"/>
<text x="247.8" y="484.73" class="tick">2</text>
<line x1="248.3" y1="442.07" x2="249.9" y2="442.07" stroke="#858585" stroke-width="0.8"/>
<text x="247.8" y="445.57" class="tick">4</text>
<line x1="248.3" y1="402.9" x2="249.9" y2="402.9" stroke="#858585" stroke-width="0.8"/>
<text x="247.8" y="406.4" class="tick">6</text>
<text transform="translate(232.6 459.15) rotate(-90)" x="0" y="0" class="ttl" textLength="53.5" lengthAdjust="spacingAndGlyphs">AsA/DHA ratio</text>
<rect x="326.85" y="412" width="5.5" height="4" fill="#ffffff" stroke="#606060" stroke-width="0.9"/>
<rect x="360.55" y="412" width="5.5" height="4" fill="#333333" stroke="#1e1e1e" stroke-width="0.9"/>
<rect x="382.35" y="412" width="5.5" height="4" fill="#ff6600" stroke="#6a3000" stroke-width="0.9"/>
<rect x="400.05" y="412" width="5.5" height="4" fill="#08bf08" stroke="#0b5a0b" stroke-width="0.9"/>
<text x="336.8" y="416.4" class="leg" textLength="22.1" lengthAdjust="spacingAndGlyphs">Control</text>
<text x="370.8" y="416.4" class="leg" textLength="8.7" lengthAdjust="spacingAndGlyphs">CS</text>
<text x="392.2" y="416.4" class="leg" textLength="3.8" lengthAdjust="spacingAndGlyphs">S</text>
<text x="409.7" y="416.4" class="leg" textLength="7.8" lengthAdjust="spacingAndGlyphs">SS</text>
<text x="88.4" y="531.8" class="xl">1</text>
<text x="168.8" y="531.8" class="xl">3</text>
<text x="90.9" y="538.3" class="time" textLength="75.5" lengthAdjust="spacingAndGlyphs">Time after treatment (day)</text>
<text x="296.5" y="531.8" class="xl">1</text>
<text x="376.9" y="531.8" class="xl">3</text>
<text x="306.2" y="538.3" class="time" textLength="75" lengthAdjust="spacingAndGlyphs">Time after treatment (day)</text>
</svg>
</body></html>
